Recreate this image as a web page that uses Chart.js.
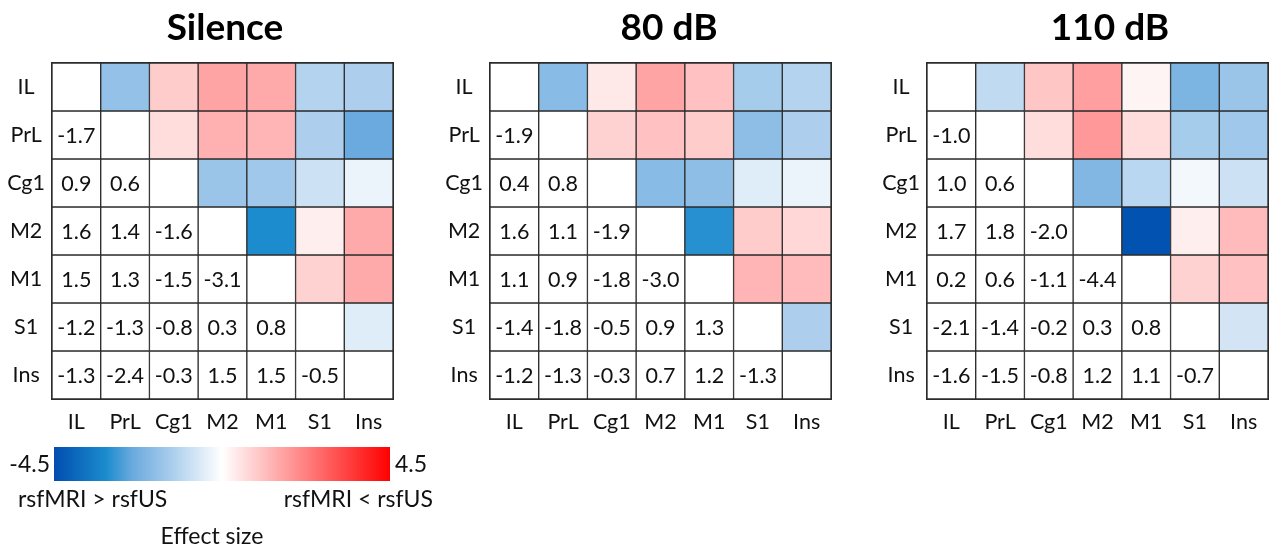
<!DOCTYPE html>
<html>
<head>
<meta charset="utf-8">
<script src="https://cdn.jsdelivr.net/npm/chart.js@4.4.1/dist/chart.umd.min.js"></script>
<style>
  html, body { margin: 0; padding: 0; background: #fff; }
  #wrap { position: relative; width: 1269px; height: 549px; overflow: hidden; background: #fff; }
  .pane { position: absolute; }
</style>
</head>
<body>
<div id="wrap"></div>
<script>
// Regions, shared by rows and columns
const regions = ['IL', 'PrL', 'Cg1', 'M2', 'M1', 'S1', 'Ins'];

// Lower-triangle effect sizes, row by row (row i holds columns 0..i-1)
const silence = [
  [],
  [-1.7],
  [0.9, 0.6],
  [1.6, 1.4, -1.6],
  [1.5, 1.3, -1.5, -3.1],
  [-1.2, -1.3, -0.8, 0.3, 0.8],
  [-1.3, -2.4, -0.3, 1.5, 1.5, -0.5]
];
const db80 = [
  [],
  [-1.9],
  [0.4, 0.8],
  [1.6, 1.1, -1.9],
  [1.1, 0.9, -1.8, -3.0],
  [-1.4, -1.8, -0.5, 0.9, 1.3],
  [-1.2, -1.3, -0.3, 0.7, 1.2, -1.3]
];
const db110 = [
  [],
  [-1.0],
  [1.0, 0.6],
  [1.7, 1.8, -2.0],
  [0.2, 0.6, -1.1, -4.4],
  [-2.1, -1.4, -0.2, 0.3, 0.8],
  [-1.6, -1.5, -0.8, 1.2, 1.1, -0.7]
];
const panelTitles = ['Silence', '80 dB', '110 dB'];

// Colour scale limits and the labels around the colour bar
const scaleMin = -4.5;
const scaleMax = 4.5;
const scaleLabels = ['-4.5', '4.5'];
const sideLabels = ['rsfMRI > rsfUS', 'rsfMRI < rsfUS'];
const scaleTitle = 'Effect size';

// Diverging colour map: value -> rgb
const cmapStops = [
  [-4.5, [0, 78, 175]],
  [-3.1, [28, 140, 206]],
  [-2.4, [106, 170, 222]],
  [-1.5, [160, 200, 234]],
  [0, [255, 255, 255]],
  [4.5, [255, 0, 0]]
];

function colourFor(v) {
  if (v <= cmapStops[0][0]) return rgb(cmapStops[0][1]);
  for (let i = 1; i < cmapStops.length; i++) {
    const [v1, c1] = cmapStops[i];
    const [v0, c0] = cmapStops[i - 1];
    if (v <= v1) {
      const t = (v - v0) / (v1 - v0);
      return rgb(c0.map((a, k) => a + (c1[k] - a) * t));
    }
  }
  return rgb(cmapStops[cmapStops.length - 1][1]);
}
function rgb(c) {
  return 'rgb(' + c.map(x => Math.round(x)).join(',') + ')';
}

const FONT = 'Lato, "Open Sans", "DejaVu Sans", sans-serif';
const LINE = '#2b2b2b';

// Layout of the three matrices
const gridW = 341, gridTop = 63, gridH = 336, axisW = 52, axisH = 50;
const panelLayout = [
  { gridLeft: 52, titleX: 225 },
  { gridLeft: 490, titleX: 669 },
  { gridLeft: 927, titleX: 1110 }
];
const panelData = [silence, db80, db110];

const wrap = document.getElementById('wrap');

function addCanvas(left, top, w, h) {
  const d = document.createElement('div');
  d.className = 'pane';
  d.style.left = left + 'px';
  d.style.top = top + 'px';
  d.style.width = w + 'px';
  d.style.height = h + 'px';
  const c = document.createElement('canvas');
  d.appendChild(c);
  wrap.appendChild(d);
  return c;
}

// Value of cell (row r, col c); upper cells mirror the lower triangle
function cellValue(m, r, c) {
  if (c < r) return m[r][c];
  if (c > r) return m[c][r];
  return null;
}

const cellText = {
  id: 'cellText',
  afterDatasetsDraw(chart, args, opts) {
    const ctx = chart.ctx;
    const m = opts.matrix;
    ctx.save();
    ctx.fillStyle = '#111';
    ctx.font = '21.5px ' + FONT;
    ctx.textAlign = 'center';
    ctx.textBaseline = 'middle';
    chart.data.datasets.forEach((ds, r) => {
      chart.getDatasetMeta(r).data.forEach((bar, c) => {
        if (c < r) {
          const p = bar.getProps(['x', 'y', 'base'], true);
          ctx.fillText(m[r][c].toFixed(1), p.x, (p.y + p.base) / 2 + 1);
        }
      });
    });
    ctx.restore();
  }
};

const panelTitle = {
  id: 'panelTitle',
  afterDraw(chart, args, opts) {
    const ctx = chart.ctx;
    ctx.save();
    ctx.fillStyle = '#000';
    ctx.font = 'bold 37px ' + FONT;
    ctx.textAlign = 'center';
    ctx.textBaseline = 'middle';
    ctx.fillText(opts.text, opts.x, opts.y);
    ctx.restore();
  }
};

panelData.forEach((m, p) => {
  const lay = panelLayout[p];
  const left = lay.gridLeft - axisW;
  const w = axisW + gridW + 2;
  const h = gridTop + gridH + axisH;
  const canvas = addCanvas(left, 0, w, h);

  const datasets = regions.map((_, r) => ({
    data: regions.map(() => [r, r + 1]),
    backgroundColor: regions.map((_, c) => c > r ? colourFor(cellValue(m, r, c)) : '#ffffff'),
    borderColor: LINE,
    borderWidth: 1,
    borderSkipped: false,
    grouped: false,
    categoryPercentage: 1,
    barPercentage: 1
  }));

  new Chart(canvas, {
    type: 'bar',
    data: { labels: regions, datasets },
    options: {
      responsive: true,
      maintainAspectRatio: false,
      animation: false,
      layout: { padding: { top: gridTop, right: 2, left: 0, bottom: 0 } },
      plugins: {
        legend: { display: false },
        tooltip: { enabled: false },
        cellText: { matrix: m },
        panelTitle: { text: panelTitles[p], x: lay.titleX - left, y: 28 }
      },
      scales: {
        x: {
          type: 'category',
          position: 'bottom',
          offset: true,
          grid: { display: false, drawTicks: false },
          border: { display: true, color: LINE, width: 2 },
          ticks: { color: '#111', font: { family: FONT, size: 21.5 }, padding: 10, maxRotation: 0, autoSkip: false },
          afterFit(s) { s.height = axisH; }
        },
        y: {
          type: 'linear',
          position: 'left',
          min: 0,
          max: regions.length,
          reverse: true,
          grid: { display: false, drawTicks: false },
          border: { display: true, color: LINE, width: 2 },
          afterBuildTicks(s) { s.ticks = regions.map((_, i) => ({ value: i + 0.5 })); },
          ticks: {
            color: '#111',
            font: { family: FONT, size: 21.5 },
            padding: 7,
            crossAlign: 'center',
            autoSkip: false,
            callback: (v, i) => regions[i]
          },
          afterFit(s) { s.width = axisW; }
        },
        xTop: {
          type: 'linear',
          position: 'top',
          min: 0, max: 1,
          grid: { display: false, drawTicks: false },
          ticks: { display: false },
          border: { display: true, color: LINE, width: 2 },
          afterFit(s) { s.height = 0; }
        },
        yRight: {
          type: 'linear',
          position: 'right',
          min: 0, max: 1,
          grid: { display: false, drawTicks: false },
          ticks: { display: false },
          border: { display: true, color: LINE, width: 2 },
          afterFit(s) { s.width = 0; }
        }
      }
    },
    plugins: [cellText, panelTitle]
  });
});

// Colour bar with its labels
const cbLeft = 0, cbTop = 430, cbW = 445, cbH = 119;
const cbCanvas = addCanvas(cbLeft, cbTop, cbW, cbH);

const barLabels = {
  id: 'barLabels',
  afterDraw(chart) {
    const ctx = chart.ctx;
    const a = chart.chartArea;
    const midY = (a.top + a.bottom) / 2 + 1;
    ctx.save();
    ctx.fillStyle = '#111';
    ctx.font = '23px ' + FONT;
    ctx.textBaseline = 'middle';
    ctx.textAlign = 'right';
    ctx.fillText(scaleLabels[0], a.left - 4, midY);
    ctx.textAlign = 'left';
    ctx.fillText(scaleLabels[1], a.right + 5, midY);
    ctx.font = '23px ' + FONT;
    ctx.textAlign = 'left';
    ctx.fillText(sideLabels[0], 18, 70);
    ctx.textAlign = 'right';
    ctx.fillText(sideLabels[1], 433, 70);
    ctx.textAlign = 'center';
    ctx.fillText(scaleTitle, 212, 107);
    ctx.restore();
  }
};

new Chart(cbCanvas, {
  type: 'bar',
  data: {
    labels: [''],
    datasets: [{
      data: [[scaleMin, scaleMax]],
      backgroundColor(ctx) {
        const chart = ctx.chart;
        const a = chart.chartArea;
        const xs = chart.scales.x;
        if (!a || !xs) return '#fff';
        const g = chart.ctx.createLinearGradient(a.left, 0, a.right, 0);
        cmapStops.forEach(([v, c]) => {
          const t = (xs.getPixelForValue(v) - a.left) / (a.right - a.left);
          g.addColorStop(Math.min(1, Math.max(0, t)), rgb(c));
        });
        return g;
      },
      borderWidth: 0,
      categoryPercentage: 1,
      barPercentage: 1
    }]
  },
  options: {
    indexAxis: 'y',
    responsive: true,
    maintainAspectRatio: false,
    animation: false,
    layout: { padding: { left: 54, right: cbW - 390, top: 17, bottom: cbH - 51 } },
    plugins: { legend: { display: false }, tooltip: { enabled: false } },
    scales: {
      x: { type: 'linear', min: scaleMin, max: scaleMax, display: false },
      y: { type: 'category', display: false }
    }
  },
  plugins: [barLabels]
});
</script>
</body>
</html>
